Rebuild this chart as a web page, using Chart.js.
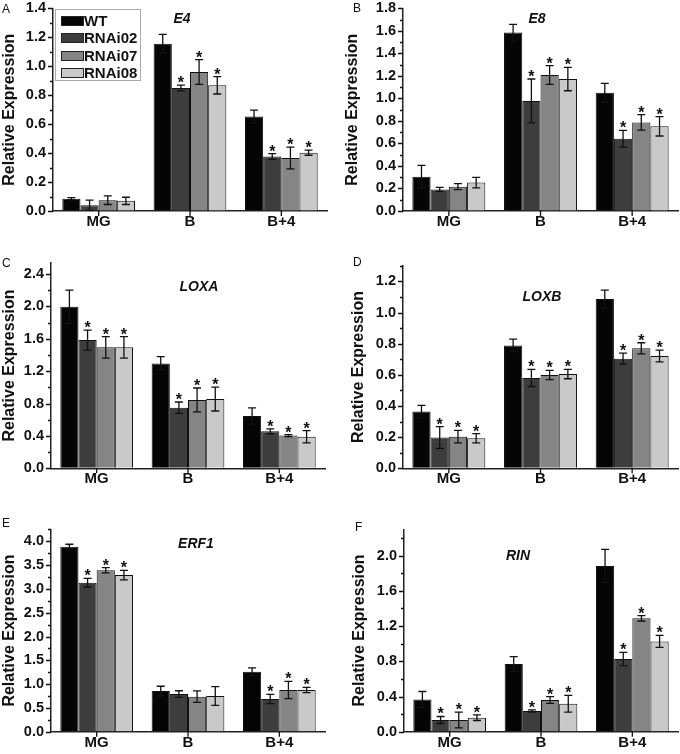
<!DOCTYPE html>
<html>
<head>
<meta charset="utf-8">
<script src="https://cdn.jsdelivr.net/npm/chart.js@4.4.1/dist/chart.umd.min.js"></script>
<style>
  body { margin: 0; background: #fff; }
  #fig { position: relative; width: 680px; height: 754px; font-family: "Liberation Sans", Arial, sans-serif; color: #111; }
  #fig canvas { position: absolute; }
  .letter { position: absolute; font-size: 12px; line-height: 12px; }
  .gene { position: absolute; font-size: 14px; line-height: 14px; font-weight: bold; font-style: italic; transform: translate(-50%, -50%); white-space: nowrap; }
  #legend { position: absolute; left: 55px; top: 9px; width: 84px; height: 70px; border: 1px solid #aaa; background: #fff; }
  .lg-row { position: absolute; left: 0; height: 16px; }
  .lg-sw { position: absolute; left: 5px; top: 3px; width: 21px; height: 8px; border: 1px solid #222; }
  .lg-tx { position: absolute; left: 28px; top: 0; font-size: 15px; line-height: 15px; font-weight: bold; white-space: nowrap; }
</style>
</head>
<body>
<div id="fig"></div>
<script>
// ---- data ----
const categories  = ['MG', 'B', 'B+4'];
const seriesNames = ['WT', 'RNAi02', 'RNAi07', 'RNAi08'];
const seriesColors = ['#050505', '#3d3d3d', '#858585', '#c9c9c9'];

// rows = series (WT, RNAi02, RNAi07, RNAi08), cols = categories
const e4Mean = [[0.085, 1.155, 0.652], [0.040, 0.850, 0.376], [0.075, 0.960, 0.366], [0.070, 0.868, 0.403]];
const e4Err  = [[0.008, 0.065, 0.045], [0.035, 0.020, 0.020], [0.030, 0.085, 0.075], [0.025, 0.060, 0.018]];
const e4Sig  = [[0, 0, 0], [0, 1, 1], [0, 1, 1], [0, 1, 1]];

const e8Mean = [[0.305, 1.584, 1.050], [0.192, 0.977, 0.642], [0.216, 1.208, 0.787], [0.252, 1.172, 0.752]];
const e8Err  = [[0.100, 0.074, 0.083], [0.018, 0.195, 0.074], [0.027, 0.083, 0.068], [0.047, 0.104, 0.086]];
const e8Sig  = [[0, 0, 0], [0, 1, 1], [0, 1, 1], [0, 1, 1]];

const loxaMean = [[1.996, 1.296, 0.646], [1.584, 0.749, 0.457], [1.494, 0.844, 0.404], [1.494, 0.856, 0.390]];
const loxaErr  = [[0.205, 0.083, 0.100], [0.124, 0.070, 0.030], [0.132, 0.148, 0.012], [0.132, 0.148, 0.075]];
const loxaSig  = [[0, 0, 0], [1, 1, 1], [1, 1, 1], [1, 1, 1]];

const loxbMean = [[0.364, 0.789, 1.087], [0.197, 0.580, 0.704], [0.203, 0.599, 0.770], [0.193, 0.605, 0.721]];
const loxbErr  = [[0.040, 0.040, 0.057], [0.070, 0.055, 0.035], [0.040, 0.030, 0.036], [0.030, 0.030, 0.038]];
const loxbSig  = [[0, 0, 0], [1, 1, 1], [1, 1, 1], [1, 1, 1]];

const erf1Mean = [[3.888, 0.855, 1.260], [3.130, 0.790, 0.687], [3.390, 0.736, 0.876], [3.290, 0.750, 0.876]];
const erf1Err  = [[0.050, 0.100, 0.080], [0.090, 0.070, 0.098], [0.055, 0.120, 0.182], [0.100, 0.196, 0.055]];
const erf1Sig  = [[0, 0, 0], [1, 0, 1], [1, 0, 1], [1, 0, 1]];

const rinMean = [[0.367, 0.769, 1.883], [0.133, 0.235, 0.826], [0.133, 0.360, 1.288], [0.159, 0.318, 1.026]];
const rinErr  = [[0.090, 0.083, 0.190], [0.040, 0.012, 0.076], [0.090, 0.038, 0.030], [0.032, 0.095, 0.068]];
const rinSig  = [[0, 0, 0], [1, 1, 1], [1, 1, 1], [1, 1, 1]];

// ---- layout of the six panels ----
const panels = [
  { letter: 'A', gene: 'E4',   mean: e4Mean,   err: e4Err,   sig: e4Sig,   yMax: 1.4,  major: 0.2, minor: 0.1,
    box: [0, 0, 340, 250],     area: [53, 8.3, 327, 211],     titlePad: 0,    letterPos: [2, 2.5],   genePos: [182, 17.5] },
  { letter: 'B', gene: 'E8',   mean: e8Mean,   err: e8Err,   sig: e8Sig,   yMax: 1.8,  major: 0.2, minor: 0.1,
    box: [340, 0, 340, 250],   area: [403, 8.3, 678, 211],    titlePad: 3.4,  letterPos: [353, 2],   genePos: [537, 17.5] },
  { letter: 'C', gene: 'LOXA', mean: loxaMean, err: loxaErr, sig: loxaSig, yMax: 2.54, major: 0.4, minor: 0.2,
    box: [0, 250, 340, 250],   area: [51, 262.7, 325, 468.3], titlePad: 0,    letterPos: [2, 256.5], genePos: [199, 286] },
  { letter: 'D', gene: 'LOXB', mean: loxbMean, err: loxbErr, sig: loxbSig, yMax: 1.3,  major: 0.2, minor: 0.1,
    box: [340, 250, 340, 250], area: [403, 265.8, 678, 468.3], titlePad: 9,   letterPos: [353, 255.5], genePos: [542, 296] },
  { letter: 'E', gene: 'ERF1', mean: erf1Mean, err: erf1Err, sig: erf1Sig, yMax: 4.25, major: 0.5, minor: 0.25,
    box: [0, 500, 340, 254],   area: [51, 529.4, 325, 731.7], titlePad: 0,    letterPos: [2, 516.5], genePos: [196, 542.5] },
  { letter: 'F', gene: 'RIN',  mean: rinMean,  err: rinErr,  sig: rinSig,  yMax: 2.3,  major: 0.4, minor: 0.2,
    box: [340, 500, 340, 254], area: [404, 529.3, 678, 731.7], titlePad: 10.4, letterPos: [355, 520.5], genePos: [518, 555] },
];

const FONT = '"Liberation Sans", Arial, sans-serif';
Chart.defaults.font.family = FONT;

// error bars, significance stars and axis tick marks
const errorBarsPlugin = {
  id: 'errorBars',
  afterDatasetsDraw(chart, args, opts) {
    const p = opts.panel;
    const { ctx, chartArea } = chart;
    const yS = chart.scales.y, xS = chart.scales.x;
    ctx.save();
    ctx.strokeStyle = '#111';
    ctx.fillStyle = '#111';
    ctx.lineWidth = 1.3;
    ctx.font = 'bold 16px ' + FONT;
    ctx.textAlign = 'center';
    ctx.textBaseline = 'alphabetic';
    chart.data.datasets.forEach((ds, i) => {
      chart.getDatasetMeta(i).data.forEach((bar, j) => {
        const v = ds.data[j], e = p.err[i][j];
        const top = yS.getPixelForValue(v + e);
        const bot = yS.getPixelForValue(Math.max(v - e, 0));
        ctx.beginPath();
        ctx.moveTo(bar.x, top); ctx.lineTo(bar.x, bot);
        ctx.moveTo(bar.x - 4, top); ctx.lineTo(bar.x + 4, top);
        ctx.moveTo(bar.x - 4, bot); ctx.lineTo(bar.x + 4, bot);
        ctx.stroke();
        if (p.sig[i][j]) ctx.fillText('*', bar.x, top + 3);
      });
    });
    // y ticks (major + minor) and x ticks
    ctx.beginPath();
    const n = Math.floor(p.yMax / p.minor + 1e-6);
    for (let k = 0; k <= n; k++) {
      const v = k * p.minor;
      const r = v / p.major;
      const isMajor = Math.abs(r - Math.round(r)) < 1e-6;
      const py = Math.round(yS.getPixelForValue(v)) + 0.5;
      ctx.moveTo(chartArea.left - (isMajor ? 5 : 3), py);
      ctx.lineTo(chartArea.left, py);
    }
    categories.forEach((c, j) => {
      const px = xS.getPixelForValue(j);
      ctx.moveTo(px, chartArea.bottom);
      ctx.lineTo(px, chartArea.bottom + 5);
    });
    ctx.stroke();
    ctx.restore();
  }
};

const fig = document.getElementById('fig');

panels.forEach(p => {
  const [bx, by, bw, bh] = p.box;
  const [al, at, ar, ab] = p.area;
  const canvas = document.createElement('canvas');
  canvas.width = bw; canvas.height = bh;
  canvas.style.left = bx + 'px'; canvas.style.top = by + 'px';
  canvas.style.width = bw + 'px'; canvas.style.height = bh + 'px';
  fig.appendChild(canvas);

  new Chart(canvas, {
    type: 'bar',
    data: {
      labels: categories,
      datasets: seriesNames.map((name, i) => ({
        label: name,
        data: p.mean[i],
        backgroundColor: seriesColors[i],
        borderColor: '#111',
        borderWidth: 1,
        barPercentage: 1,
        categoryPercentage: 0.796,
      })),
    },
    options: {
      responsive: false,
      animation: false,
      layout: { padding: { left: 0, top: at - by, right: bx + bw - ar, bottom: 0 } },
      plugins: { legend: { display: false }, tooltip: { enabled: false }, errorBars: { panel: p } },
      scales: {
        x: {
          grid: { drawOnChartArea: false, drawTicks: false },
          border: { color: '#222', width: 1.5 },
          ticks: { font: { size: 15, weight: 'bold' }, color: '#111', padding: 2, maxRotation: 0 },
          afterFit: s => { s.height = by + bh - ab; s.paddingLeft = 0; s.paddingRight = 0; },
        },
        y: {
          min: 0, max: p.yMax,
          grid: { drawOnChartArea: false, drawTicks: false },
          border: { color: '#222', width: 1.5 },
          ticks: {
            stepSize: p.major, includeBounds: false, autoSkip: false,
            font: { size: 14.5, weight: 'bold', lineHeight: 1 }, color: '#111', padding: 7,
            callback: v => Number(v).toFixed(1),
          },
          title: {
            display: true, text: 'Relative Expression', color: '#111',
            font: { size: 16, weight: 'bold' }, padding: { top: p.titlePad, bottom: 0 },
          },
          afterFit: s => { s.width = al - bx; s.paddingTop = 0; s.paddingBottom = 0; },
        },
      },
    },
    plugins: [errorBarsPlugin],
  });

  const lt = document.createElement('div');
  lt.className = 'letter';
  lt.textContent = p.letter;
  lt.style.left = p.letterPos[0] + 'px'; lt.style.top = p.letterPos[1] + 'px';
  fig.appendChild(lt);

  const g = document.createElement('div');
  g.className = 'gene';
  g.textContent = p.gene;
  g.style.left = p.genePos[0] + 'px'; g.style.top = p.genePos[1] + 'px';
  fig.appendChild(g);
});

// legend (panel A)
const legend = document.createElement('div');
legend.id = 'legend';
seriesNames.forEach((name, i) => {
  const row = document.createElement('div');
  row.className = 'lg-row';
  row.style.top = (3 + i * 17.3) + 'px';
  row.innerHTML = '<div class="lg-sw" style="background:' + seriesColors[i] + '"></div><div class="lg-tx">' + name + '</div>';
  legend.appendChild(row);
});
fig.appendChild(legend);
</script>
</body>
</html>
